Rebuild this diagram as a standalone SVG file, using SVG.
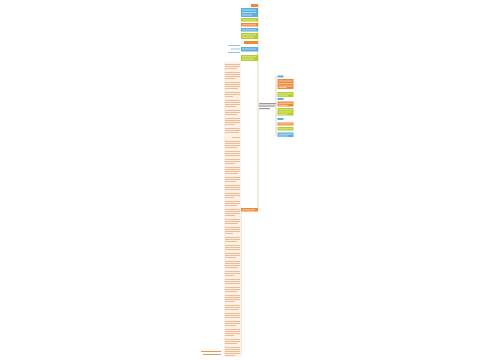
<svg xmlns="http://www.w3.org/2000/svg" width="500" height="360" viewBox="0 0 500 360">
<style>
.or{fill:#f0883a}.bl{fill:#5aaee0}.gr{fill:#b5cc2a}.pe{fill:#fdf1e6}
.tl{fill:#ffffff;opacity:.55}.tb{fill:#7fb6dc;opacity:.8}
.ln{stroke:#d9c79a;stroke-width:0.7;fill:none}
</style>
<rect width="500" height="360" fill="#ffffff"/>
<g id="connectors">
<path class="ln" d="M258,5 V210"/>
<path class="ln" d="M258,105 H276"/>
<path class="ln" d="M276,76 V136"/>
<path class="ln" d="M241,212 V356"/>
</g>
<g id="root"><rect x="259" y="103" width="17" height="1.2" fill="#999"/><rect x="259" y="105.5" width="16" height="1.2" fill="#999"/><rect x="259" y="108" width="11" height="1.2" fill="#999"/></g>
<g id="n1"><rect class="or" x="251" y="4" width="7" height="3"/></g>
<g id="n2"><rect class="bl" x="241" y="8" width="17" height="9"/><rect class="tl" x="242" y="9.5" width="14" height="1"/><rect class="tl" x="242" y="12" width="14" height="1"/><rect class="tl" x="242" y="14.5" width="10" height="1"/></g>
<g id="n3"><rect class="gr" x="241" y="18" width="17" height="3.5"/><rect class="tl" x="242" y="19.3" width="14" height="1"/></g>
<g id="n4"><rect class="or" x="241" y="23" width="17" height="3.5"/><rect class="tl" x="242" y="24.3" width="14" height="1"/></g>
<g id="n5"><rect class="bl" x="241" y="28" width="17" height="3.5"/><rect class="tl" x="242" y="29.3" width="14" height="1"/></g>
<g id="n6"><rect class="gr" x="241" y="33" width="17" height="6"/><rect class="tl" x="242" y="34.3" width="14" height="1"/><rect class="tl" x="242" y="36.6" width="12" height="1"/></g>
<g id="n7"><rect class="or" x="244" y="41" width="14" height="3"/></g>
<g id="n8"><rect class="tb" x="228" y="45" width="12" height="1"/><rect class="tb" x="231" y="48.5" width="9" height="1"/><rect class="tb" x="228" y="52" width="12" height="1"/></g>
<g id="n9"><rect class="bl" x="241" y="47" width="17" height="4.5"/><rect class="tl" x="242" y="48.5" width="14" height="1"/></g>
<g id="n10"><rect class="gr" x="241" y="55" width="17" height="6"/><rect class="tl" x="242" y="56.3" width="14" height="1"/><rect class="tl" x="242" y="58.6" width="12" height="1"/></g>
<g id="n11"><rect class="or" x="241" y="208" width="17" height="3.5"/><rect class="tl" x="242" y="209.3" width="13" height="1"/></g>
<g id="left">
<rect class="pe" x="224" y="62" width="17" height="295"/>
<g fill="#e6a676" opacity=".8">
<rect x="225" y="64" width="15" height="0.9"/><rect x="225" y="66" width="15" height="0.9"/><rect x="225" y="68" width="12" height="0.9"/>
<rect x="225" y="72" width="15" height="0.9"/><rect x="225" y="74" width="15" height="0.9"/><rect x="225" y="76" width="15" height="0.9"/><rect x="225" y="78" width="10" height="0.9"/>
<rect x="225" y="82" width="15" height="0.9"/><rect x="225" y="84" width="15" height="0.9"/><rect x="225" y="86" width="15" height="0.9"/><rect x="225" y="88" width="13" height="0.9"/>
<rect x="225" y="92" width="15" height="0.9"/><rect x="225" y="94" width="15" height="0.9"/><rect x="225" y="96" width="8" height="0.9"/>
<rect x="225" y="100" width="15" height="0.9"/><rect x="225" y="102" width="15" height="0.9"/><rect x="225" y="104" width="15" height="0.9"/><rect x="225" y="106" width="11" height="0.9"/>
<rect x="225" y="110" width="15" height="0.9"/><rect x="225" y="112" width="15" height="0.9"/><rect x="225" y="114" width="12" height="0.9"/>
<rect x="225" y="118" width="15" height="0.9"/><rect x="225" y="120" width="15" height="0.9"/><rect x="225" y="122" width="15" height="0.9"/><rect x="225" y="124" width="9" height="0.9"/>
<rect x="225" y="128" width="15" height="0.9"/><rect x="225" y="130" width="15" height="0.9"/><rect x="225" y="132" width="14" height="0.9"/>
<rect x="232" y="137" width="8" height="0.9"/>
<rect x="225" y="141" width="15" height="0.9"/><rect x="225" y="143" width="15" height="0.9"/><rect x="225" y="145" width="15" height="0.9"/><rect x="225" y="147" width="12" height="0.9"/>
<rect x="225" y="151" width="15" height="0.9"/><rect x="225" y="153" width="15" height="0.9"/><rect x="225" y="155" width="15" height="0.9"/>
<rect x="225" y="159" width="15" height="0.9"/><rect x="225" y="161" width="15" height="0.9"/><rect x="225" y="163" width="10" height="0.9"/>
<rect x="225" y="167" width="15" height="0.9"/><rect x="225" y="169" width="15" height="0.9"/><rect x="225" y="171" width="15" height="0.9"/><rect x="225" y="173" width="13" height="0.9"/>
<rect x="225" y="177" width="15" height="0.9"/><rect x="225" y="179" width="15" height="0.9"/><rect x="225" y="181" width="11" height="0.9"/>
<rect x="225" y="185" width="15" height="0.9"/><rect x="225" y="187" width="15" height="0.9"/><rect x="225" y="189" width="15" height="0.9"/>
<rect x="225" y="193" width="15" height="0.9"/><rect x="225" y="195" width="15" height="0.9"/><rect x="225" y="197" width="9" height="0.9"/>
<rect x="225" y="201" width="15" height="0.9"/><rect x="225" y="203" width="15" height="0.9"/><rect x="225" y="205" width="12" height="0.9"/>
<rect x="225" y="209" width="15" height="0.9"/><rect x="225" y="211" width="15" height="0.9"/><rect x="225" y="213" width="15" height="0.9"/><rect x="225" y="215" width="10" height="0.9"/>
<rect x="225" y="219" width="15" height="0.9"/><rect x="225" y="221" width="15" height="0.9"/><rect x="225" y="223" width="13" height="0.9"/>
<rect x="225" y="227" width="15" height="0.9"/><rect x="225" y="229" width="15" height="0.9"/><rect x="225" y="231" width="15" height="0.9"/><rect x="225" y="233" width="8" height="0.9"/>
<rect x="225" y="237" width="15" height="0.9"/><rect x="225" y="239" width="15" height="0.9"/><rect x="225" y="241" width="12" height="0.9"/>
<rect x="225" y="245" width="15" height="0.9"/><rect x="225" y="247" width="15" height="0.9"/><rect x="225" y="249" width="15" height="0.9"/>
<rect x="225" y="253" width="15" height="0.9"/><rect x="225" y="255" width="15" height="0.9"/><rect x="225" y="257" width="11" height="0.9"/>
<rect x="225" y="261" width="15" height="0.9"/><rect x="225" y="263" width="15" height="0.9"/><rect x="225" y="265" width="15" height="0.9"/><rect x="225" y="267" width="13" height="0.9"/>
<rect x="225" y="271" width="15" height="0.9"/><rect x="225" y="273" width="15" height="0.9"/><rect x="225" y="275" width="9" height="0.9"/>
<rect x="225" y="279" width="15" height="0.9"/><rect x="225" y="281" width="15" height="0.9"/><rect x="225" y="283" width="15" height="0.9"/>
<rect x="225" y="287" width="15" height="0.9"/><rect x="225" y="289" width="15" height="0.9"/><rect x="225" y="291" width="12" height="0.9"/>
<rect x="225" y="295" width="15" height="0.9"/><rect x="225" y="297" width="15" height="0.9"/><rect x="225" y="299" width="15" height="0.9"/><rect x="225" y="301" width="10" height="0.9"/>
<rect x="225" y="305" width="15" height="0.9"/><rect x="225" y="307" width="15" height="0.9"/><rect x="225" y="309" width="14" height="0.9"/>
<rect x="225" y="313" width="15" height="0.9"/><rect x="225" y="315" width="15" height="0.9"/><rect x="225" y="317" width="15" height="0.9"/>
<rect x="225" y="321" width="15" height="0.9"/><rect x="225" y="323" width="15" height="0.9"/><rect x="225" y="325" width="11" height="0.9"/>
<rect x="225" y="329" width="15" height="0.9"/><rect x="225" y="331" width="15" height="0.9"/><rect x="225" y="333" width="15" height="0.9"/><rect x="225" y="335" width="9" height="0.9"/>
<rect x="225" y="339" width="15" height="0.9"/><rect x="225" y="341" width="15" height="0.9"/><rect x="225" y="343" width="12" height="0.9"/>
<rect x="225" y="347" width="15" height="0.9"/><rect x="225" y="349" width="15" height="0.9"/><rect x="225" y="351" width="15" height="0.9"/><rect x="225" y="353" width="15" height="0.9"/><rect x="225" y="355" width="10" height="0.9"/>
</g>
<g fill="#e8964a"><rect x="201" y="351" width="20" height="1"/><rect x="203" y="354" width="18" height="1"/></g>
</g>
<g id="r0"><rect class="bl" x="277.5" y="75.5" width="6" height="2"/></g>
<g id="r1"><rect class="or" x="277.5" y="79" width="16" height="10"/><rect class="tl" x="278.5" y="80.5" width="14" height="1"/><rect class="tl" x="278.5" y="83" width="14" height="1"/><rect class="tl" x="278.5" y="85.5" width="14" height="1"/><rect class="tl" x="278.5" y="87" width="8" height="1"/></g>
<g id="r2"><rect class="gr" x="277.5" y="92" width="16" height="5"/><rect class="tl" x="278.5" y="93.3" width="14" height="1"/><rect class="tl" x="278.5" y="95.3" width="9" height="1"/></g>
<g id="r3"><rect class="bl" x="277.5" y="98" width="6" height="2"/></g>
<g id="r4"><rect class="or" x="277.5" y="101.5" width="16" height="5"/><rect class="tl" x="278.5" y="102.8" width="14" height="1"/><rect class="tl" x="278.5" y="104.8" width="9" height="1"/></g>
<g id="r5"><rect class="gr" x="277.5" y="108" width="16" height="7.5"/><rect class="tl" x="278.5" y="109.3" width="14" height="1"/><rect class="tl" x="278.5" y="111.5" width="14" height="1"/><rect class="tl" x="278.5" y="113.7" width="9" height="1"/></g>
<g id="r6"><rect class="bl" x="277.5" y="118" width="6" height="2"/></g>
<g id="r7"><rect class="or" x="277.5" y="122.5" width="16" height="3"/><rect class="tl" x="278.5" y="123.5" width="14" height="1"/></g>
<g id="r8"><rect class="gr" x="277.5" y="127" width="16" height="3.5"/><rect class="tl" x="278.5" y="128.3" width="14" height="1"/></g>
<g id="r9"><rect class="bl" x="277.5" y="132.5" width="16" height="4.5"/><rect class="tl" x="278.5" y="133.7" width="14" height="1"/><rect class="tl" x="278.5" y="135.5" width="9" height="1"/></g>
</svg>
